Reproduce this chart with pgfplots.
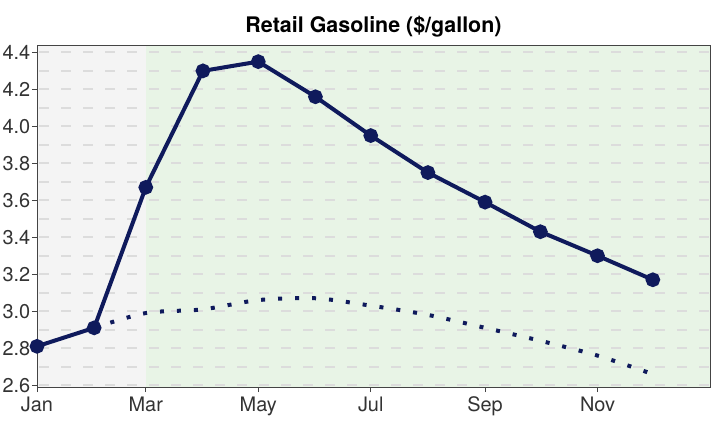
\documentclass[border=0pt]{standalone}
\usepackage{pgfplots}
\pgfplotsset{compat=1.18}
\usepackage{fontspec}
\setmainfont{TeX Gyre Heros}
\definecolor{navy}{HTML}{0F1A5C}
\definecolor{bggray}{HTML}{F4F4F4}
\definecolor{bggreen}{HTML}{E8F4E6}
\definecolor{gridc}{HTML}{DCDCDC}
\definecolor{axc}{HTML}{444444}
\begin{document}
\begin{tikzpicture}
\begin{axis}[
  set layers=standard,
  scale only axis,
  width=673bp, height=342bp,
  xmin=0, xmax=365, ymin=2.59, ymax=4.44,
  xtick={0,59,120,181,243,304},
  xticklabels={Jan,Mar,May,Jul,Sep,Nov},
  ytick={2.6,2.8,...,4.41},
  minor ytick={2.7,2.9,...,4.35},
  minor tick length=0pt,
  ymajorgrids, yminorgrids,
  major grid style={gridc, line width=1.8bp, dash pattern=on 10bp off 12bp, dash phase=-2bp},
  minor grid style={gridc, line width=1.8bp, dash pattern=on 10bp off 12bp, dash phase=-2bp},
  tick align=outside,
  major tick length=5bp,
  xtick pos=bottom, ytick pos=left,
  tick style={axc, line width=0.8bp},
  axis line style={axc, line width=0.9bp},
  y tick label style={/pgf/number format/fixed, /pgf/number format/fixed zerofill, /pgf/number format/precision=1, /pgf/number format/assume math mode=true, inner xsep=1.5bp},
  x tick label style={/pgf/number format/assume math mode=true, inner ysep=4.5bp},
  tick label style={font=\fontsize{20}{22}\selectfont, text=black!80},
  title={\bfseries Retail Gasoline (\$/gallon)},
  title style={font=\fontsize{21.5}{24}\selectfont, yshift=-2bp},
  clip=true,
]
\begin{pgfonlayer}{axis background}
\fill[bggray] (axis cs:0,2.59) rectangle (axis cs:59,4.44);
\fill[bggreen] (axis cs:59,2.59) rectangle (axis cs:365,4.44);
\end{pgfonlayer}
\addplot[navy, line width=4bp, line cap=butt, dash pattern=on 4bp off 13bp, smooth] coordinates {
(31,2.91) (59,2.99) (90,3.01) (120,3.06) (151,3.07) (181,3.03) (212,2.98) (243,2.91) (273,2.84) (304,2.76) (331,2.67)
};
\addplot[navy, line width=4bp, mark=*, mark size=5.3bp, mark options={solid}] coordinates {
(0,2.81) (31,2.91) (59,3.67) (90,4.30) (120,4.35) (151,4.16) (181,3.95) (212,3.75) (243,3.59) (273,3.43) (304,3.30) (334,3.17)
};
\end{axis}
\path ([shift={(-37bp,-39bp)}]current axis.south west) rectangle ([shift={(8bp,45bp)}]current axis.north east);
\end{tikzpicture}
\end{document}
